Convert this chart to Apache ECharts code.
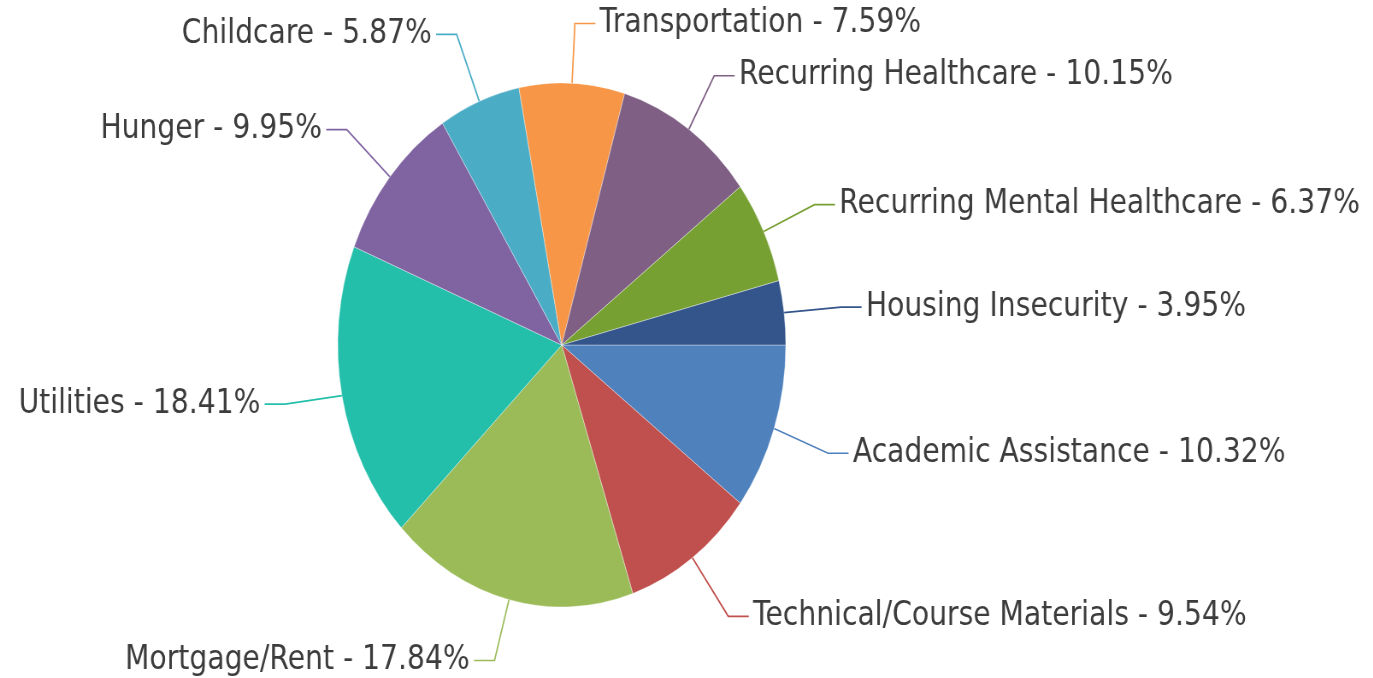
<!DOCTYPE html>
<html>
<head>
<meta charset="utf-8">
<script src="https://cdn.jsdelivr.net/npm/echarts@6/dist/echarts.min.js"></script>
<style>
html,body{margin:0;padding:0;background:#fff;overflow:hidden;width:1373px;height:678px;}
#chart{width:1700px;height:678px;transform:scaleX(0.855);transform-origin:0 0;}
</style>
</head>
<body>
<div id="chart"></div>
<script>
const categories = ["Academic Assistance","Technical/Course Materials","Mortgage/Rent","Utilities","Hunger","Childcare","Transportation","Recurring Healthcare","Recurring Mental Healthcare","Housing Insecurity"];
const values = [10.32, 9.54, 17.84, 18.41, 9.95, 5.87, 7.59, 10.15, 6.37, 3.95];
const colors = ["#4f81bd","#c0504d","#9bbb59","#23bfaa","#8064a2","#4bacc6","#f79646","#7f6084","#77a033","#33558b"];

const chart = echarts.init(document.getElementById('chart'));
chart.setOption({
  animation: false,
  color: colors,
  series: [{
    type: 'pie',
    left: 0,
    top: 6,
    bottom: 0,
    right: 0,
    center: [657, 339],
    radius: 262,
    startAngle: 0,
    clockwise: true,
    avoidLabelOverlap: true,
    itemStyle: {borderColor: 'rgba(255,255,255,0.6)', borderWidth: 0.6},
    label: {
      show: true,
      fontFamily: 'DejaVu Sans',
      fontSize: 33,
      color: '#3c3c3c',
      overflow: 'none',
      formatter: p => p.name + ' - ' + p.value.toFixed(2) + '%'
    },
    labelLine: {show: true, length: 72, length2: 24, lineStyle: {width: 1.7}},
    emphasis: {disabled: true},
    data: categories.map((c, i) => ({name: c, value: values[i]}))
  }]
});
</script>
</body>
</html>
